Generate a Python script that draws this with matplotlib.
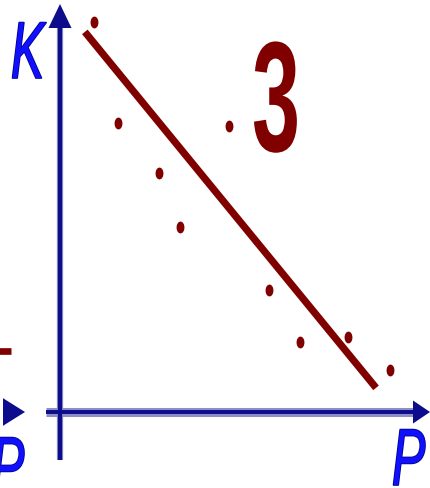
import numpy as np
import matplotlib
matplotlib.use("Agg")
import matplotlib.pyplot as plt
from matplotlib.path import Path
from matplotlib.transforms import Affine2D
import matplotlib.patheffects as pe

# Scatter of K against P with its trend line
P = [0.97, 1.66, 2.83, 3.43, 4.83, 5.97, 6.86, 8.23, 9.43]
K = [11.14, 8.26, 6.83, 5.29, 8.17, 3.49, 2.00, 2.14, 1.20]
fit_P = [0.71, 9.03]
fit_K = [10.86, 0.69]
panel_label = "3"
x_label = "P"
y_label = "K"

RED = "#800000"
NAVY = "#0c0c8c"
HALO = "#8c8cc6"
BLUE = "#1010ff"

U = 35.0  # pixels per data unit


class NarrowStroke(pe.Stroke):
    """Outline drawn with the glyphs compressed horizontally."""

    def __init__(self, sx, **kw):
        super().__init__(**kw)
        self.sx = sx

    def draw_path(self, renderer, gc, tpath, affine, rgbFace=None):
        super().draw_path(renderer, gc, tpath,
                          Affine2D().scale(self.sx, 1) + affine, rgbFace)


class Narrow(pe.AbstractPathEffect):
    """Fill drawn with the glyphs compressed horizontally."""

    def __init__(self, sx):
        super().__init__()
        self.sx = sx

    def draw_path(self, renderer, gc, tpath, affine, rgbFace=None):
        renderer.draw_path(gc, tpath, Affine2D().scale(self.sx, 1) + affine,
                           rgbFace)


fig = plt.figure(figsize=(4.31, 4.88), dpi=100)
ax = fig.add_axes([0, 0, 1, 1])
ax.set_xlim(-60 / U, 371 / U)
ax.set_ylim(-76 / U, 412 / U)
ax.axis("off")

# hand-drawn style axes with triangular heads
y_bottom, y_tip = -48 / U, 408 / U
x_left, x_tip = -14 / U, 370 / U
head_len_v, head_len_h, head_half = 24 / U, 17 / U, 11.5 / U

ax.plot([0, 0], [y_bottom, y_tip - head_len_v], color=HALO, lw=4.5,
        solid_capstyle="butt", zorder=1)
ax.plot([0, 0], [y_bottom, y_tip - head_len_v], color=NAVY, lw=3,
        solid_capstyle="butt", zorder=2)
ax.fill([-head_half, head_half, 0], [y_tip - head_len_v] * 2 + [y_tip],
        color=NAVY, lw=0, zorder=2)

ax.plot([x_left, x_tip - head_len_h], [0, 0], color=HALO, lw=6.5,
        solid_capstyle="butt", zorder=1)
ax.plot([x_left, x_tip - head_len_h], [0, 0], color=NAVY, lw=2.8,
        solid_capstyle="butt", zorder=2)
ax.fill([x_tip - head_len_h] * 2 + [x_tip], [-head_half, head_half, 0],
        color=NAVY, lw=0, zorder=2)

# neighbouring panel edges
nb_tip = -35 / U
ax.fill([nb_tip - 22 / U] * 2 + [nb_tip], [-head_half * 1.2, head_half * 1.2, 0],
        color=NAVY, lw=0, zorder=2)
ax.plot([-80 / U, -49 / U], [(412 - 351) / U] * 2, color=RED, lw=4.8,
        solid_capstyle="butt", zorder=2)

# trend line and points
ax.plot(fit_P, fit_K, color=RED, lw=5.2, solid_capstyle="butt", zorder=3)
t = np.linspace(0, 2 * np.pi, 48)
ellipse = Path(np.column_stack([0.62 * np.cos(t), np.sin(t)]), closed=True)
ax.plot(P, K, ls="none", marker=ellipse, ms=7.5, color=RED, mec=RED, zorder=4)

fonts = ["Liberation Sans", "DejaVu Sans"]
SX = 0.62
letter_fx = [NarrowStroke(SX, linewidth=1.2, foreground="#00008c"), Narrow(SX)]

ax.text(11 / U - 60 / U, (412 - 78) / U, y_label, family=fonts, style="italic",
        fontsize=58, color=BLUE, ha="left", va="baseline",
        path_effects=letter_fx, zorder=5)
ax.text(392 / U - 60 / U, (412 - 485) / U, x_label, family=fonts,
        style="italic", fontsize=58, color=BLUE, ha="left", va="baseline",
        path_effects=letter_fx, zorder=5)
ax.text(-9 / U - 60 / U, (412 - 493) / U, x_label, family=fonts,
        style="italic", fontsize=58, color=BLUE, ha="left", va="baseline",
        path_effects=letter_fx, zorder=5)

ax.text(252 / U - 60 / U, (412 - 151) / U, panel_label, family=fonts,
        weight="bold", fontsize=113, color=RED, ha="left", va="baseline",
        path_effects=[Narrow(0.55)], zorder=5)

fig.savefig("out.png", dpi=100, facecolor="white")
